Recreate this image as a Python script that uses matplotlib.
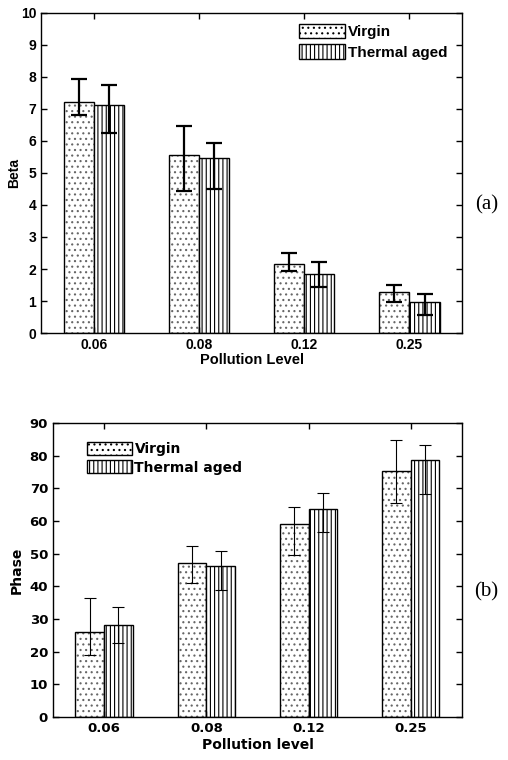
import matplotlib.pyplot as plt
import numpy as np

# pollution levels (categories)
levels = ["0.06", "0.08", "0.12", "0.25"]

# panel (a): Beta
beta_virgin = [7.22, 5.57, 2.16, 1.28]
beta_virgin_lo = [6.82, 4.45, 1.93, 0.96]
beta_virgin_hi = [7.94, 6.48, 2.50, 1.51]
beta_thermal = [7.12, 5.46, 1.84, 0.97]
beta_thermal_lo = [6.25, 4.51, 1.44, 0.57]
beta_thermal_hi = [7.76, 5.94, 2.23, 1.23]

# panel (b): Phase
phase_virgin = [25.9, 47.0, 59.0, 75.2]
phase_virgin_lo = [18.9, 41.1, 49.5, 65.6]
phase_virgin_hi = [36.5, 52.4, 64.2, 84.7]
phase_thermal = [28.3, 46.3, 63.6, 78.6]
phase_thermal_lo = [22.8, 38.9, 56.5, 68.4]
phase_thermal_hi = [33.7, 50.9, 68.5, 83.2]

plt.rcParams['hatch.linewidth'] = 0.8


def panel(ax, v, vlo, vhi, t, tlo, thi, font, fs, ew, cap, w):
    x = np.arange(1, len(levels) + 1)
    # dotted fill in grey, outline in black drawn on top
    ax.bar(x - w / 2, v, w, color='white', edgecolor='#666666', hatch='...',
           linewidth=0)
    ax.bar(x - w / 2, v, w, fill=False, edgecolor='black', linewidth=1.0)
    ax.bar(x + w / 2, t, w, color='white', edgecolor='black', hatch='||||',
           linewidth=1.0)
    ev = [np.array(v) - np.array(vlo), np.array(vhi) - np.array(v)]
    et = [np.array(t) - np.array(tlo), np.array(thi) - np.array(t)]
    ax.errorbar(x - w / 2, v, yerr=ev, fmt='none', ecolor='black',
                elinewidth=ew, capsize=cap, capthick=ew)
    ax.errorbar(x + w / 2, t, yerr=et, fmt='none', ecolor='black',
                elinewidth=ew, capsize=cap, capthick=ew)
    ax.set_xlim(0.5, 4.5)
    ax.set_xticks(x)
    ax.set_xticklabels(levels, fontfamily=font, fontweight='bold', fontsize=fs)
    for lab in ax.get_yticklabels():
        lab.set_fontfamily(font)
        lab.set_fontweight('bold')
        lab.set_fontsize(fs)
    ax.tick_params(direction='in', top=True, right=True, length=4, width=1)
    for s in ax.spines.values():
        s.set_linewidth(1.0)


def legend_handles():
    from matplotlib.patches import Patch
    return [Patch(facecolor='white', edgecolor='black', hatch='...', linewidth=1.0),
            Patch(facecolor='white', edgecolor='black', hatch='||||', linewidth=1.0)]


fig = plt.figure(figsize=(5.08, 7.6), dpi=100)

ax1 = fig.add_axes([0.0807, 0.5618, 0.829, 0.4212])
ax1.set_ylim(0, 10)
ax1.set_yticks(range(0, 11))
panel(ax1, beta_virgin, beta_virgin_lo, beta_virgin_hi,
      beta_thermal, beta_thermal_lo, beta_thermal_hi,
      'Liberation Sans', 10, 1.6, 6, 0.286)
ax1.set_ylabel('Beta', fontfamily='Liberation Sans', fontweight='bold', fontsize=10, labelpad=0)
ax1.set_xlabel('Pollution Level', fontfamily='Liberation Sans', fontweight='bold', fontsize=10.5, labelpad=1)
ax1.legend(legend_handles(), ['Virgin', 'Thermal aged'],
           loc='upper right', frameon=False, handlelength=3.0, handleheight=1.1,
           prop={'family': 'Liberation Sans', 'weight': 'bold', 'size': 11},
           borderaxespad=0.3, handletextpad=0.2, labelspacing=0.35,
           bbox_to_anchor=(0.99, 1.0))

ax2 = fig.add_axes([0.1043, 0.0566, 0.805, 0.3868])
ax2.set_ylim(0, 90)
ax2.set_yticks(range(0, 91, 10))
panel(ax2, phase_virgin, phase_virgin_lo, phase_virgin_hi,
      phase_thermal, phase_thermal_lo, phase_thermal_hi,
      'DejaVu Sans', 9.5, 0.8, 4, 0.28)
ax2.set_ylabel('Phase', fontfamily='DejaVu Sans', fontweight='bold', fontsize=10, labelpad=4)
ax2.set_xlabel('Pollution level', fontfamily='DejaVu Sans', fontweight='bold', fontsize=10, labelpad=2)
ax2.legend(legend_handles(), ['Virgin', 'Thermal aged'],
           loc='upper left', frameon=False, handlelength=3.2, handleheight=1.1,
           prop={'family': 'DejaVu Sans', 'weight': 'bold', 'size': 10},
           borderaxespad=0.3, handletextpad=0.2, labelspacing=0.3,
           bbox_to_anchor=(0.06, 0.97))

fig.text(0.958, 0.73, '(a)', fontfamily='Liberation Serif', fontsize=15, ha='center', va='center')
fig.text(0.958, 0.221, '(b)', fontfamily='Liberation Serif', fontsize=15, ha='center', va='center')

fig.savefig('out.png', dpi=100)
